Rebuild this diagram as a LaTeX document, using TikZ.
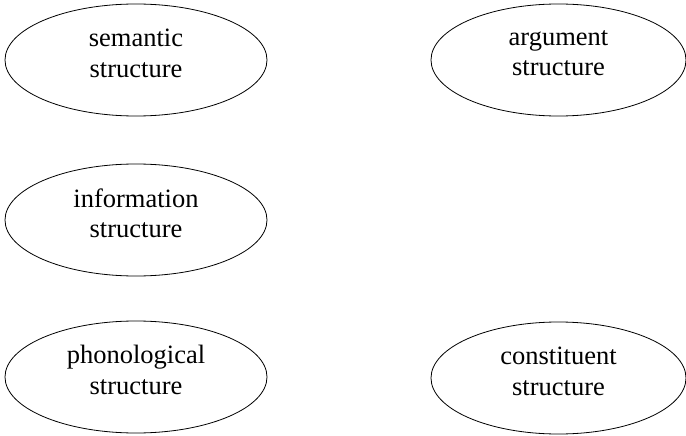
\documentclass[tikz,border=0pt]{standalone}
\usepackage{fontspec}
\setmainfont{Liberation Serif}
\usetikzlibrary{shapes.geometric}

\begin{document}
\begin{tikzpicture}
[line width=.8pt,x=1pt,y=-1pt,
 struct/.style={draw,ellipse,minimum width=262pt,minimum height=112pt,inner sep=0pt,
   align=center,text depth=14pt,font=\fontsize{26.5}{30.5}\selectfont}]

\useasboundingbox (0,0) rectangle (686,436);

\node[struct] (sem) at (136,60) {semantic\\structure};
\node[struct,minimum width=255pt] (arg) at (558.5,60) {argument\\structure};
\node[struct] (info) at (136,220) {information\\structure};
\node[struct] (phon) at (136,377) {phonological\\structure};
\node[struct,minimum width=255pt] (cons) at (558.5,378) {constituent\\structure};
\end{tikzpicture}
\end{document}
